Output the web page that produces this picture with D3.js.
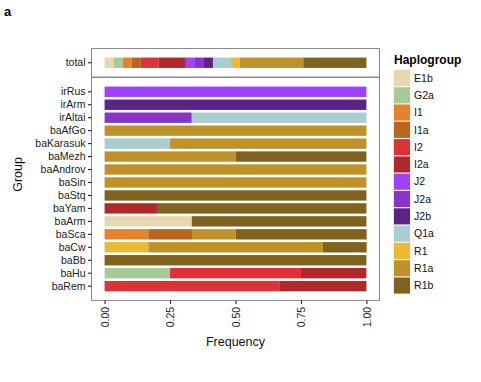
<!DOCTYPE html>
<html>
<head>
<meta charset="utf-8">
<script src="https://cdn.jsdelivr.net/npm/d3@7"></script>
<style>
body { margin: 0; background: #fff; }
svg { font-family: "Liberation Sans", Arial, sans-serif; }
</style>
</head>
<body>
<svg id="chart" width="481" height="382"></svg>
<script>
var haplogroups = ['E1b', 'G2a', 'I1', 'I1a', 'I2', 'I2a', 'J2', 'J2a', 'J2b', 'Q1a', 'R1', 'R1a', 'R1b'];
var hapColors = ['#e6d7ae', '#a7cb98', '#e5832a', '#b8651d', '#dd3336', '#b1282c', '#a03ffc', '#8834c9', '#5a2485', '#a8cecf', '#edb832', '#be9229', '#80621f'];

var totalLabel = ['total'];
var totalFreqs = [0.0345, 0.0345, 0.0345, 0.0345, 0.069, 0.1034, 0.0345, 0.0345, 0.0345, 0.069, 0.0345, 0.2414, 0.2413];

var groups = ['irRus', 'irArm', 'irAltai', 'baAfGo', 'baKarasuk', 'baMezh', 'baAndrov', 'baSin',
              'baStq', 'baYam', 'baArm', 'baSca', 'baCw', 'baBb', 'baHu', 'baRem'];
//                 E1b   G2a   I1     I1a    I2     I2a    J2  J2a    J2b Q1a    R1     R1a    R1b
var groupFreqs = [
    [0,    0,    0,     0,     0,     0,     1,  0,     0,  0,     0,     0,     0],
    [0,    0,    0,     0,     0,     0,     0,  0,     1,  0,     0,     0,     0],
    [0,    0,    0,     0,     0,     0,     0,  0.333, 0,  0.667, 0,     0,     0],
    [0,    0,    0,     0,     0,     0,     0,  0,     0,  0,     0,     1,     0],
    [0,    0,    0,     0,     0,     0,     0,  0,     0,  0.25,  0,     0.75,  0],
    [0,    0,    0,     0,     0,     0,     0,  0,     0,  0,     0,     0.5,   0.5],
    [0,    0,    0,     0,     0,     0,     0,  0,     0,  0,     0,     1,     0],
    [0,    0,    0,     0,     0,     0,     0,  0,     0,  0,     0,     1,     0],
    [0,    0,    0,     0,     0,     0,     0,  0,     0,  0,     0,     0,     1],
    [0,    0,    0,     0,     0,     0.2,   0,  0,     0,  0,     0,     0,     0.8],
    [0.333,0,    0,     0,     0,     0,     0,  0,     0,  0,     0,     0,     0.667],
    [0,    0,    0.167, 0.167, 0,     0,     0,  0,     0,  0,     0,     0.167, 0.5],
    [0,    0,    0,     0,     0,     0,     0,  0,     0,  0,     0.167, 0.667, 0.167],
    [0,    0,    0,     0,     0,     0,     0,  0,     0,  0,     0,     0,     1],
    [0,    0.25, 0,     0,     0.5,   0.25,  0,  0,     0,  0,     0,     0,     0],
    [0,    0,    0,     0,     0.667, 0.333, 0,  0,     0,  0,     0,     0,     0]
];

var xTicks = [0, 0.25, 0.5, 0.75, 1];

var svg = d3.select('#chart');
var panelLeft = 91.5, panelRight = 379.5;
var step = 12.96;

var x = d3.scaleLinear().domain([-0.05, 1.05]).range([panelLeft, panelRight]);
var color = d3.scaleOrdinal().domain(haplogroups).range(hapColors);

var topPanel = { y0: 48.5, y1: 48.5 + step * 2.2 };
var botPanel = { y0: topPanel.y1 + 0.5, y1: topPanel.y1 + 0.5 + step * 17.2 };

function drawPanel(panel, labels, freqs) {
    var y = d3.scaleBand().domain(labels).range([panel.y0, panel.y1])
        .paddingInner(0.2).paddingOuter(0.7);

    var g = svg.append('g');
    g.append('rect')
        .attr('x', panelLeft).attr('y', panel.y0)
        .attr('width', panelRight - panelLeft).attr('height', panel.y1 - panel.y0)
        .attr('fill', '#fff').attr('stroke', '#8a8a8a').attr('stroke-width', 1);

    labels.forEach(function(lab, i) {
        var row = freqs[i];
        var stacked = [];
        var acc = 0;
        row.forEach(function(f, j) {
            if (f > 0) {
                stacked.push({ hap: haplogroups[j], x0: acc, x1: acc + f });
                acc += f;
            }
        });
        g.selectAll(null).data(stacked).enter().append('rect')
            .attr('x', function(d) { return x(d.x0); })
            .attr('width', function(d) { return x(d.x1) - x(d.x0); })
            .attr('y', y(lab))
            .attr('height', y.bandwidth())
            .attr('fill', function(d) { return color(d.hap); });
    });

    var axis = d3.axisLeft(y).tickSize(3.5).tickPadding(2.5);
    var ga = svg.append('g').attr('transform', 'translate(' + panelLeft + ',0)').call(axis);
    ga.select('.domain').remove();
    ga.selectAll('line').attr('stroke', '#222').attr('stroke-width', 1.1);
    ga.selectAll('text').attr('font-size', 10.5).attr('fill', '#222')
        .attr('font-family', '"Liberation Sans", Arial, sans-serif');
}

drawPanel(topPanel, totalLabel, [totalFreqs]);
drawPanel(botPanel, groups, groupFreqs);

// x axis
var xa = svg.append('g').attr('transform', 'translate(0,' + botPanel.y1 + ')')
    .call(d3.axisBottom(x).tickValues(xTicks).tickFormat(d3.format('.2f')).tickSize(3.5).tickPadding(3));
xa.select('.domain').remove();
xa.selectAll('line').attr('stroke', '#222').attr('stroke-width', 1.1);
xa.selectAll('text')
    .attr('font-size', 10.5).attr('fill', '#222')
    .attr('font-family', '"Liberation Sans", Arial, sans-serif')
    .attr('transform', 'rotate(-90)')
    .attr('text-anchor', 'end')
    .attr('x', -6.5).attr('y', 0).attr('dy', '0.35em');

svg.append('text').attr('x', (panelLeft + panelRight) / 2).attr('y', 346)
    .attr('text-anchor', 'middle').attr('font-size', 12.5).attr('fill', '#111')
    .text('Frequency');

svg.append('text')
    .attr('transform', 'translate(22,' + ((topPanel.y0 + botPanel.y1) / 2) + ') rotate(-90)')
    .attr('text-anchor', 'middle').attr('font-size', 12.5).attr('fill', '#111')
    .text('Group');

svg.append('text').attr('x', 4).attr('y', 16)
    .attr('font-size', 13).attr('font-weight', 'bold').attr('fill', '#000')
    .text('a');

// legend
var legend = svg.append('g').attr('transform', 'translate(393.3,69.3)');
svg.append('text').attr('x', 394).attr('y', 63.5)
    .attr('font-size', 12).attr('font-weight', 'bold').attr('fill', '#000')
    .text('Haplogroup');
var keySize = 17.3;
var keys = legend.selectAll('g.key').data(haplogroups).enter().append('g')
    .attr('class', 'key')
    .attr('transform', function(d, i) { return 'translate(0,' + (i * keySize) + ')'; });
keys.append('rect')
    .attr('width', keySize).attr('height', keySize)
    .attr('fill', '#f2f2f2');
keys.append('rect')
    .attr('x', 0.6).attr('y', 0.6)
    .attr('width', keySize - 1.2).attr('height', keySize - 1.2)
    .attr('fill', function(d) { return color(d); });
keys.append('text')
    .attr('x', keySize + 3.5).attr('y', keySize / 2).attr('dy', '0.35em')
    .attr('font-size', 10.5).attr('fill', '#111')
    .text(function(d) { return d; });
</script>
</body>
</html>
